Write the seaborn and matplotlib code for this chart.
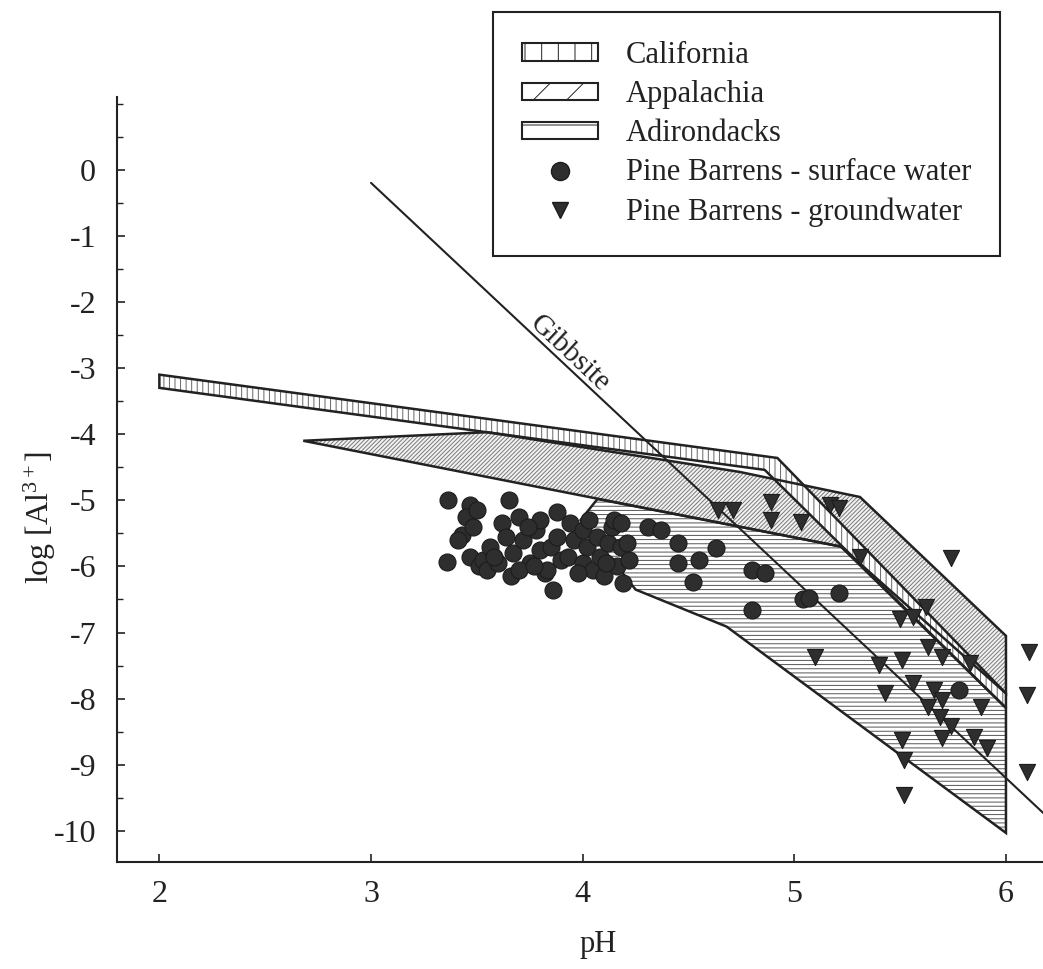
import numpy as np
import pandas as pd
import matplotlib
matplotlib.use("Agg")
import matplotlib.pyplot as plt
import seaborn as sns
from matplotlib.patches import Patch
from matplotlib.lines import Line2D
from matplotlib.ticker import MultipleLocator, FixedLocator

# ---------------- data ----------------
california_ph = [2.00, 4.92, 6.00, 6.00, 4.86, 2.00]
california_log = [-3.10, -4.36, -7.92, -8.14, -4.54, -3.30]

appalachia_ph = [2.68, 3.55, 4.74, 5.31, 6.00, 6.00, 5.22]
appalachia_log = [-4.10, -3.97, -4.57, -4.95, -7.05, -7.92, -5.70]

adirondacks_ph = [4.07, 5.22, 6.00, 6.00, 4.68, 4.25, 3.99]
adirondacks_log = [-4.98, -5.70, -8.14, -10.03, -6.91, -6.35, -5.30]

gibbsite_ph = [3.0, 6.3]
gibbsite_log = [-0.20, -10.10]

surface_ph = [3.365, 3.36, 3.47, 3.45, 3.43, 3.41, 3.47, 3.51, 3.50, 3.48, 3.53, 3.55,
              3.56, 3.60, 3.62, 3.65, 3.66, 3.67, 3.70, 3.72, 3.75, 3.78, 3.80, 3.80,
              3.82, 3.83, 3.85, 3.86, 3.88, 3.88, 3.90, 3.64, 3.70, 3.58, 3.74, 3.77,
              3.94, 3.93, 3.96, 4.00, 4.00, 4.02, 4.05, 4.07, 4.08, 4.10, 4.12, 4.14,
              4.15, 4.16, 4.18, 4.18, 4.19, 4.21, 4.11, 4.03, 3.98, 4.22,
              4.31, 4.37, 4.45, 4.45, 4.55, 4.63, 4.52, 4.80, 4.86, 4.80, 5.04, 5.07,
              5.21, 5.78]
surface_log = [-4.99, -5.93, -5.07, -5.25, -5.52, -5.60, -5.85, -6.00, -5.15, -5.40, -5.90, -6.05,
               -5.70, -5.95, -5.35, -4.99, -6.15, -5.80, -5.25, -5.60, -5.95, -5.45, -5.30, -5.75,
               -6.10, -6.05, -5.70, -6.35, -5.17, -5.55, -5.90, -5.55, -6.05, -5.85, -5.40, -6.00,
               -5.35, -5.85, -5.60, -5.45, -5.95, -5.70, -6.05, -5.55, -5.85, -6.15, -5.65, -5.40,
               -5.30, -6.00, -5.70, -5.35, -6.25, -5.65, -5.95, -5.30, -6.10, -5.90,
               -5.40, -5.45, -5.65, -5.95, -5.90, -5.72, -6.23, -6.05, -6.10, -6.66, -6.50, -6.48,
               -6.40, -7.87]

ground_ph = [4.64, 4.71, 4.89, 4.89, 5.03, 5.17, 5.21, 5.31, 5.74, 5.62, 5.50, 5.56,
             5.63, 5.70, 5.83, 5.10, 5.40, 5.51, 5.56, 5.66, 5.43, 5.63, 5.70, 5.88,
             5.69, 5.74, 5.51, 5.70, 5.85, 5.91, 5.52, 5.52, 6.11, 6.10, 6.10]
ground_log = [-5.14, -5.14, -5.02, -5.30, -5.33, -5.07, -5.11, -5.85, -5.87, -6.61, -6.80, -6.76,
              -7.22, -7.37, -7.46, -7.37, -7.49, -7.41, -7.76, -7.87, -7.91, -8.12, -8.02, -8.12,
              -8.27, -8.42, -8.62, -8.59, -8.58, -8.74, -8.93, -9.46, -7.29, -7.94, -9.11]

x_ticks = [2, 3, 4, 5, 6]
y_ticks = [0, -1, -2, -3, -4, -5, -6, -7, -8, -9, -10]
legend_labels = ["California", "Appalachia", "Adirondacks",
                 "Pine Barrens - surface water", "Pine Barrens - groundwater"]

# ---------------- style ----------------
sns.set_style("ticks")
plt.rcParams["font.family"] = ["Liberation Serif", "DejaVu Serif"]
plt.rcParams["mathtext.fontset"] = "custom"
plt.rcParams["mathtext.rm"] = "Liberation Serif"
plt.rcParams["mathtext.it"] = "Liberation Serif:italic"
plt.rcParams["axes.unicode_minus"] = False
plt.rcParams["hatch.linewidth"] = 0.7

INK = "#222222"
FS = 22

fig = plt.figure(figsize=(10.43, 9.69), dpi=100)
ax = fig.add_axes([0.1122, 0.1104, 0.8878, 0.7896])

# hatched regions (hatch drawn in edge colour, outline drawn separately)
ax.fill(appalachia_ph, appalachia_log, facecolor="#f2f2f2", edgecolor="#7a7a7a",
        hatch="////////", linewidth=0, zorder=1)
ax.fill(adirondacks_ph, adirondacks_log, facecolor="white", edgecolor="#555555",
        hatch="----", linewidth=0, zorder=2)
ax.fill(california_ph, california_log, facecolor="white", edgecolor="#666666",
        hatch="|||", linewidth=0, zorder=3)
for px_, py_ in [(appalachia_ph, appalachia_log), (adirondacks_ph, adirondacks_log),
                 (california_ph, california_log)]:
    ax.fill(px_, py_, facecolor="none", edgecolor=INK, linewidth=1.8, zorder=4)

# Gibbsite line
sns.lineplot(x=gibbsite_ph, y=gibbsite_log, ax=ax, color=INK, linewidth=1.5,
             sort=False, zorder=5)
ax.text(3.94, -2.78, "Gibbsite", fontsize=21, ha="center", va="center",
        rotation=np.degrees(np.arctan2(-3.0, 1.0)), transform_rotates_text=True,
        rotation_mode="anchor", color=INK, zorder=5)

# points
sns.scatterplot(x=surface_ph, y=surface_log, ax=ax, marker="o", s=150,
                color="#2e2e2e", edgecolor="#1c1c1c", linewidth=0.8, zorder=6)
sns.scatterplot(x=ground_ph, y=ground_log, ax=ax, marker="v", s=135,
                color="#2e2e2e", edgecolor="#1c1c1c", linewidth=0.8, zorder=7)

# axes
ax.set_xlim(1.80, 6.175)
ax.set_ylim(-10.47, 1.10)
ax.xaxis.set_major_locator(FixedLocator(x_ticks))
ax.yaxis.set_major_locator(FixedLocator(y_ticks))
ax.yaxis.set_minor_locator(MultipleLocator(0.5))
ax.set_xticklabels([str(t) for t in x_ticks])
ax.set_yticklabels([str(t) for t in y_ticks])
ax.tick_params(axis="both", which="major", direction="in", length=6, width=1.2,
               labelsize=23, color=INK, labelcolor=INK)
ax.tick_params(axis="x", which="major", pad=13)
ax.tick_params(axis="y", which="major", pad=15)
ax.tick_params(axis="y", which="minor", direction="in", length=4, width=1.0, color=INK)
sns.despine(ax=ax)
for s in ["left", "bottom"]:
    ax.spines[s].set_linewidth(1.5)
    ax.spines[s].set_color(INK)

ax.set_xlabel("pH", fontsize=FS, color=INK)
ax.set_ylabel("log [Al$^{3+}$]", fontsize=23, color=INK)
ax.xaxis.label.set_verticalalignment("center")
ax.yaxis.label.set_verticalalignment("center")
ax.xaxis.set_label_coords(0.52, -0.108)
ax.yaxis.set_label_coords(-0.083, 0.45)

# legend
handles = [
    Patch(facecolor="white", edgecolor=INK, hatch="|", linewidth=1.5),
    Patch(facecolor="white", edgecolor=INK, hatch="/", linewidth=1.5),
    Patch(facecolor="white", edgecolor=INK, hatch="-", linewidth=1.5),
    Line2D([], [], linestyle="none", marker="o", markersize=13,
           markerfacecolor="#2e2e2e", markeredgecolor="#1c1c1c"),
    Line2D([], [], linestyle="none", marker="v", markersize=12,
           markerfacecolor="#2e2e2e", markeredgecolor="#1c1c1c"),
]
leg = ax.legend(handles, legend_labels, loc="upper right",
                bbox_to_anchor=(1000 / 1043, 1 - 12 / 969), bbox_transform=fig.transFigure,
                frameon=True, fancybox=False, framealpha=1, edgecolor=INK,
                fontsize=FS, handlelength=2.5, handleheight=0.5, handletextpad=0.9,
                labelspacing=0.33, borderpad=0.95, borderaxespad=0)
leg.get_frame().set_linewidth(1.5)
for t in leg.get_texts():
    t.set_color(INK)

fig.savefig("out.png", dpi=100, facecolor="white")
